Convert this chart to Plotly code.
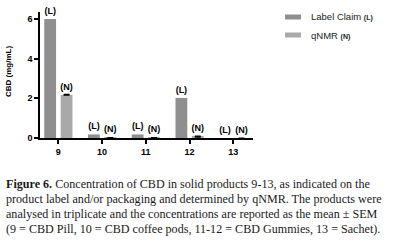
import plotly.graph_objects as go

categories = ["9", "10", "11", "12", "13"]
label_claim = [6.0, 0.18, 0.18, 2.02, 0.0]
qnmr = [2.18, 0.01, 0.01, 0.07, 0.0]
qnmr_sem = [0.02, 0.005, 0.005, 0.03, 0.0]
label_text = ["(L)"] * 5
qnmr_text = ["(N)"] * 5
y_ticks = [0, 2, 4, 6]
series_names = ["Label Claim", "qNMR"]
series_tags = ["(L)", "(N)"]
series_colors = ["#8f8f8f", "#a9a9a9"]

caption_lines = [
    "<b>Figure 6.</b> Concentration of CBD in solid products 9-13, as indicated on the",
    "product label and/or packaging and determined by qNMR. The products were",
    "analysed in triplicate and the concentrations are reported as the mean ± SEM",
    "(9 = CBD Pill, 10 = CBD coffee pods, 11-12 = CBD Gummies, 13 = Sachet).",
]

# plot area in px (for converting layout positions to paper coords)
L, R, T, B, W, H = 40, 140, 12, 103, 393, 241
PW, PH = W - L - R, H - T - B
def px(xp):
    return (xp - L) / PW
def py(yp):
    return (H - B - yp) / PH

lab_font = dict(family="Liberation Sans", size=9, color="black")

fig = go.Figure()
fig.add_trace(go.Bar(
    x=categories, y=label_claim, name=series_names[0],
    marker=dict(color=series_colors[0], line=dict(width=0)),
    text=[f"<b>{t}</b>" for t in label_text], textposition="outside",
    constraintext="none", cliponaxis=False, textfont=lab_font,
))
fig.add_trace(go.Bar(
    x=categories, y=qnmr, name=series_names[1],
    marker=dict(color=series_colors[1], line=dict(width=0)),
    error_y=dict(type="data", array=qnmr_sem, color="black", thickness=1.2, width=3),
    text=[f"<b>{t}</b>" for t in qnmr_text], textposition="outside",
    constraintext="none", cliponaxis=False, textfont=lab_font,
))

shapes = []
annotations = []
# manual legend
for i, (nm, tag, col) in enumerate(zip(series_names, series_tags, series_colors)):
    yc = 17 + 18 * i
    shapes.append(dict(type="rect", xref="paper", yref="paper",
                       x0=px(285), x1=px(301), y0=py(yc + 2.5), y1=py(yc - 2.5),
                       fillcolor=col, line=dict(width=0)))
    annotations.append(dict(text=f"{nm} <b><span style='font-size:7px'>{tag}</span></b>",
                            xref="paper", yref="paper", x=px(309), y=py(yc),
                            xanchor="left", yanchor="middle", showarrow=False,
                            font=dict(size=9.5, family="Liberation Sans", color="#222")))
# y title
annotations.append(dict(text="<b>CBD (mg/mL)</b>", xref="paper", yref="paper",
                        x=px(8), y=py(72), textangle=-90, showarrow=False,
                        xanchor="center", yanchor="middle",
                        font=dict(size=8, family="Liberation Sans", color="black")))
# caption
for i, line in enumerate(caption_lines):
    annotations.append(dict(text=line, xref="paper", yref="paper",
                            x=px(4), y=py(183.5 + 15 * i), xanchor="left", yanchor="middle",
                            align="left", showarrow=False,
                            font=dict(family="Liberation Serif", size=12.1, color="#1a1a1a")))

fig.update_layout(
    width=W, height=H,
    margin=dict(l=L, r=R, t=T, b=B),
    paper_bgcolor="white", plot_bgcolor="white",
    barmode="group", bargap=0.25, bargroupgap=0.28,
    font=dict(family="Liberation Sans", color="black"),
    showlegend=False,
    xaxis=dict(
        range=[-0.42, 4.45], showline=True, linecolor="black", linewidth=1.5,
        ticks="outside", ticklen=4, tickwidth=1.5, tickcolor="black",
        tickfont=dict(size=9, family="Liberation Sans", weight="bold"),
        showgrid=False, zeroline=False, fixedrange=True,
    ),
    yaxis=dict(
        range=[0, 6.35], showline=True, linecolor="black", linewidth=1.5,
        tickvals=y_ticks, ticks="outside", ticklen=4, tickwidth=1.5, tickcolor="black",
        tickfont=dict(size=9, family="Liberation Sans", weight="bold"),
        showgrid=False, zeroline=False, fixedrange=True,
    ),
    shapes=shapes,
    annotations=annotations,
)

fig.write_html("out.html", config={"displayModeBar": False},
               post_script="document.body.style.margin='0';document.body.style.overflow='hidden';")
